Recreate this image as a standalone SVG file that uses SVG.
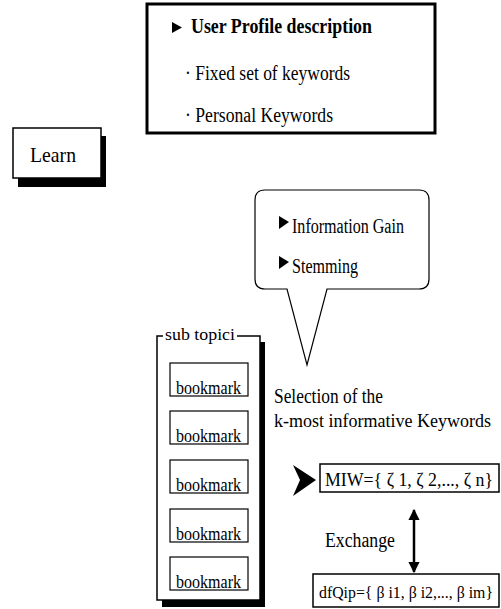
<svg xmlns="http://www.w3.org/2000/svg" width="501" height="609" viewBox="0 0 501 609">
<style>
.t{font-family:"Liberation Serif","Times New Roman",serif;fill:#000}
.box{fill:#fff;stroke:#000}
.sh{fill:#000}
</style>
<defs>
<marker id="ah" viewBox="0 0 10 10" refX="9" refY="5" markerWidth="4.5" markerHeight="5" orient="auto-start-reverse" markerUnits="strokeWidth">
<path d="M0,0 L10,5 L0,10 Z" fill="#000"/>
</marker>
</defs>
<rect width="501" height="609" fill="#fff"/>

<g id="profile">
<rect class="box" x="147" y="4" width="288" height="129" stroke-width="3"/>
<polygon points="172,22 182,27.5 172,33" fill="#000"/>
<text class="t" x="191" y="33" font-size="20" font-weight="bold" textLength="181" lengthAdjust="spacingAndGlyphs">User Profile description</text>
<text class="t" x="185" y="80" font-size="20" textLength="165" lengthAdjust="spacingAndGlyphs">· Fixed set of keywords</text>
<text class="t" x="185" y="122" font-size="20" textLength="148" lengthAdjust="spacingAndGlyphs">· Personal Keywords</text>
</g>

<g id="learn">
<rect class="sh" x="18" y="136" width="88" height="51"/>
<rect class="box" x="13" y="128" width="88" height="50" stroke-width="1.5"/>
<text class="t" x="30" y="162" font-size="22" textLength="46" lengthAdjust="spacingAndGlyphs">Learn</text>
</g>

<g id="callout">
<path class="box" stroke="#222" stroke-width="1.2" d="M265,190 H419 Q429,190 429,200 V279 Q429,289 419,289 H327 L307,365 L287,289 H265 Q255,289 255,279 V200 Q255,190 265,190 Z"/>
<polygon points="279,216 289,222 279,229" fill="#000"/>
<text class="t" x="292" y="233" font-size="20" textLength="112" lengthAdjust="spacingAndGlyphs">Information Gain</text>
<polygon points="279,256 289,262 279,269" fill="#000"/>
<text class="t" x="292" y="273" font-size="20" textLength="66" lengthAdjust="spacingAndGlyphs">Stemming</text>
</g>

<g id="subtopics">
<rect class="sh" x="162" y="342" width="103" height="265"/>
<rect class="box" x="157" y="336" width="103" height="264" stroke-width="1.5"/>
<rect x="163" y="328" width="74" height="14" fill="#fff"/>
<text class="t" x="165" y="340" font-size="17" textLength="70" lengthAdjust="spacingAndGlyphs">sub topici</text>
</g>

<g id="bookmark1">
<rect class="box" x="170" y="363" width="78" height="33" stroke-width="1.2"/>
<text class="t" x="176" y="394" font-size="18" textLength="65" lengthAdjust="spacingAndGlyphs">bookmark</text>
</g>
<g id="bookmark2">
<rect class="box" x="170" y="411" width="78" height="33" stroke-width="1.2"/>
<text class="t" x="176" y="442" font-size="18" textLength="65" lengthAdjust="spacingAndGlyphs">bookmark</text>
</g>
<g id="bookmark3">
<rect class="box" x="170" y="460" width="78" height="33" stroke-width="1.2"/>
<text class="t" x="176" y="491" font-size="18" textLength="65" lengthAdjust="spacingAndGlyphs">bookmark</text>
</g>
<g id="bookmark4">
<rect class="box" x="170" y="509" width="78" height="33" stroke-width="1.2"/>
<text class="t" x="176" y="540" font-size="18" textLength="65" lengthAdjust="spacingAndGlyphs">bookmark</text>
</g>
<g id="bookmark5">
<rect class="box" x="170" y="557" width="78" height="33" stroke-width="1.2"/>
<text class="t" x="176" y="588" font-size="18" textLength="65" lengthAdjust="spacingAndGlyphs">bookmark</text>
</g>

<g id="selection">
<text class="t" x="274" y="403" font-size="20" textLength="109" lengthAdjust="spacingAndGlyphs">Selection of the</text>
<text class="t" x="274" y="427" font-size="18" textLength="217" lengthAdjust="spacingAndGlyphs">k-most informative Keywords</text>
</g>

<g id="miw">
<rect class="box" x="320" y="464" width="179" height="28" stroke-width="1.5"/>
<text class="t" x="325" y="486" font-size="18" textLength="168" lengthAdjust="spacingAndGlyphs">MIW={ ζ 1, ζ 2,..., ζ n}</text>
</g>

<g id="dfqip">
<rect class="box" x="313" y="574" width="186" height="33" stroke-width="1.5"/>
<text class="t" x="319" y="598" font-size="16" textLength="174" lengthAdjust="spacingAndGlyphs">dfQip={ β i1, β i2,..., β im}</text>
</g>

<g id="connectors">
<polygon points="293,465 316,480 293,496 300,480" fill="#000"/>
<text class="t" x="325" y="547" font-size="20" textLength="70" lengthAdjust="spacingAndGlyphs">Exchange</text>
<line x1="414" y1="510" x2="414" y2="572" stroke="#000" stroke-width="2.5" marker-start="url(#ah)" marker-end="url(#ah)"/>
</g>
</svg>
